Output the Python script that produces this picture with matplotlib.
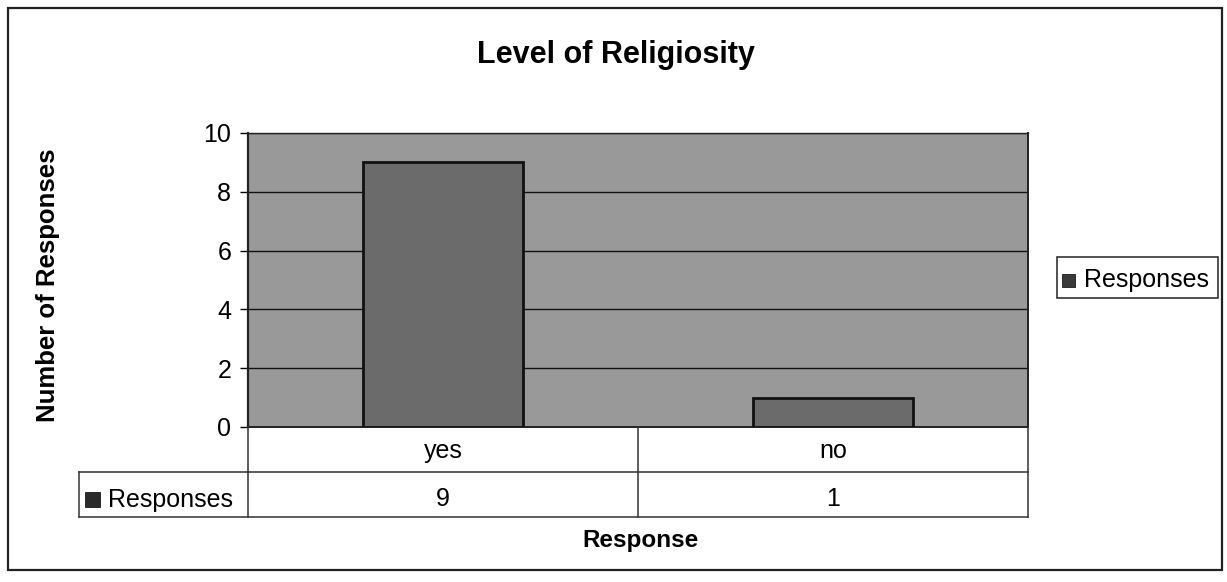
import matplotlib
matplotlib.use("Agg")
import matplotlib.pyplot as plt
from matplotlib.patches import Rectangle
from matplotlib.lines import Line2D
import matplotlib.transforms as mtransforms

categories = ["yes", "no"]
responses = [9, 1]
series_name = "Responses"
yticks = [0, 2, 4, 6, 8, 10]

W, H = 1227, 582
fig = plt.figure(figsize=(W / 100, H / 100), dpi=100)
fig.patch.set_facecolor("white")
FONT = "Liberation Sans"

def fx(px):
    return px / W

def fy(py):
    return 1 - py / H

# outer border
fig.add_artist(Rectangle((fx(8), fy(570)), fx(1222) - fx(8), fy(8) - fy(570),
                         transform=fig.transFigure, fill=False, edgecolor="#222222", lw=1.6))

left, right, top, bottom = 248, 1028, 133, 427
ax = fig.add_axes([fx(left), fy(bottom), fx(right) - fx(left), fy(top) - fy(bottom)])
ax.set_facecolor("#999999")
x = list(range(len(categories)))
ax.bar(x, responses, width=0.41, color="#6b6b6b", edgecolor="#111111", linewidth=2.0, zorder=3)
ax.set_xlim(-0.5, len(categories) - 0.5)
ax.set_ylim(0, 10)
ax.set_yticks(yticks)
ax.set_yticklabels([str(t) for t in yticks], fontsize=18, family=FONT)
ax.tick_params(axis="y", direction="out", length=6, width=1, pad=6)
ax.set_xticks([])
for t in yticks[1:]:
    ax.axhline(t, color="#111111", lw=1, zorder=2)
for s in ["left", "top", "right", "bottom"]:
    ax.spines[s].set_color("#222222")
ax.spines["left"].set_linewidth(1.6)
ax.spines["top"].set_linewidth(1.0)
ax.spines["bottom"].set_linewidth(1.4)
ax.spines["right"].set_linewidth(1.4)
ax.spines["right"].set_linestyle((0, (2, 1)))

# table below axes
lc = "#333333"
row1, row2, row3 = 427, 472, 517
tleft = 79
def line(x0, y0, x1, y1):
    fig.add_artist(Line2D([fx(x0), fx(x1)], [fy(y0), fy(y1)], transform=fig.transFigure,
                          color=lc, lw=1.1))

n = len(categories)
colw = (right - left) / n
for i in range(n + 1):
    xx = left + i * colw
    line(xx, row1, xx, row3)
line(left, row2, right, row2)
line(tleft, row2, left, row2)
line(tleft, row3, right, row3)
line(tleft, row2, tleft, row3)

trans = mtransforms.blended_transform_factory(ax.transData, fig.transFigure)
for i, (c, v) in enumerate(zip(categories, responses)):
    ax.text(i, fy(458), c, transform=trans, ha="center", va="baseline",
            fontsize=18, family=FONT)
    ax.text(i, fy(506), str(v), transform=trans, ha="center", va="baseline",
            fontsize=18, family=FONT)

# row header with key
fig.add_artist(Rectangle((fx(85), fy(507)), fx(15) - fx(0), fy(0) - fy(15),
                         transform=fig.transFigure, facecolor="#2a2a2a", edgecolor="black", lw=0.5))
fig.text(fx(108), fy(507), series_name, ha="left", va="baseline",
         fontsize=18, family=FONT)

# legend
lx0, ly0, lx1, ly1 = 1057, 257, 1218, 298
fig.add_artist(Rectangle((fx(lx0), fy(ly1)), fx(lx1) - fx(lx0), fy(ly0) - fy(ly1),
                         transform=fig.transFigure, fill=False, edgecolor="#222222", lw=1.1))
fig.add_artist(Rectangle((fx(1062), fy(287)), fx(13) - fx(0), fy(0) - fy(13),
                         transform=fig.transFigure, facecolor="#3a3a3a", edgecolor="black", lw=0.5))
fig.text(fx(1084), fy(287), series_name, ha="left", va="baseline",
         fontsize=18, family=FONT)

# titles
fig.text(fx(616), fy(55), "Level of Religiosity", ha="center", va="center",
         fontsize=22, fontweight="bold", family=FONT)
fig.text(fx(48), fy(285), "Number of Responses", ha="center", va="center", rotation=90,
         fontsize=18.5, fontweight="bold", family=FONT)
fig.text(fx(640), fy(541), "Response", ha="center", va="center",
         fontsize=17.5, fontweight="bold", family=FONT)

fig.savefig("out.png", dpi=100)
